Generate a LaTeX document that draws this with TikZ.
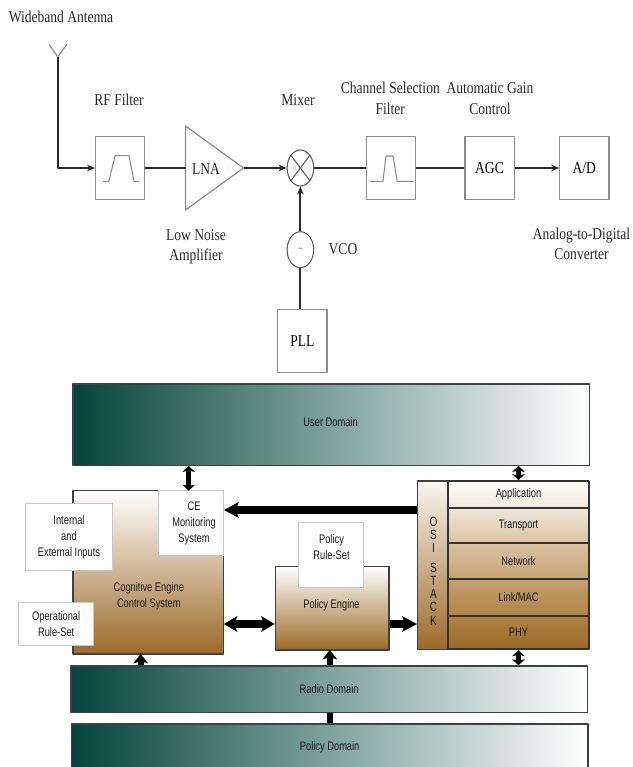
\documentclass[tikz,border=0pt]{standalone}
\usepackage{fontspec}
\setmainfont[FakeStretch=0.82]{Liberation Serif}
\setsansfont[FakeStretch=0.75]{Liberation Sans}
\usetikzlibrary{arrows.meta,shapes.geometric}
\definecolor{tealdark}{HTML}{04443C}
\definecolor{tealmid}{HTML}{7FA39D}
\definecolor{brownend}{HTML}{9C6A28}
\definecolor{linegray}{HTML}{8C8C8C}
\definecolor{lineblack}{HTML}{2A2A2A}
\definecolor{tana}{HTML}{F0E8DA}
\definecolor{tanb}{HTML}{D9C3A3}
\definecolor{tanc}{HTML}{C4A273}
\definecolor{tand}{HTML}{AE8244}
\begin{document}
\begin{tikzpicture}[x=0.75pt,y=-0.75pt,line join=round,font=\fontsize{12.4}{15.3}\selectfont]
	\def\u{0.75}
	\tikzset{
		block/.style={draw=linegray,line width=0.9pt,fill=white,inner sep=0,minimum width=49.2*\u,minimum height=62.3*\u},
		oval/.style={draw=black!65,line width=0.8pt,fill=white,ellipse,inner sep=0,minimum width=26.6*\u,minimum height=36*\u},
		lbl/.style={align=center,inner sep=0,text=black!85},
		wire/.style={draw=lineblack,line width=1.5pt},
		wirearr/.style={wire,-{Stealth[length=6pt,width=5pt]}},
		passband/.style={draw=linegray,line width=0.8pt},
		domainbar/.style={draw=black!75,line width=1pt,left color=tealdark,right color=white,middle color=tealmid,inner sep=0,text=black!90,font=\sffamily\fontsize{9.3}{12}\selectfont},
		tanbox/.style={draw=black!75,line width=1pt,top color=white,bottom color=brownend,inner sep=0,text=black!90,font=\sffamily\fontsize{9.3}{12}\selectfont},
		layer/.style={draw=black!80,line width=1.3pt,inner sep=0,minimum width=140.3*\u,text=black!90,font=\sffamily\fontsize{9.3}{12}\selectfont},
		whitebox/.style={draw=black!22,line width=0.8pt,fill=white,inner sep=0,align=center,text=black!90,font=\sffamily\fontsize{9.3}{12}\selectfont},
		sidetxt/.style={inner sep=0,align=center,text=black!90,font=\sffamily\fontsize{9.3}{12}\selectfont},
		fatone/.style={draw=black,line width=5.5pt,-{Stealth[length=11pt,width=11.5pt,inset=2pt]}},
		fattwo/.style={draw=black,line width=5.5pt,{Stealth[length=10pt,width=11.5pt,inset=2pt]}-{Stealth[length=10pt,width=11.5pt,inset=2pt]}},
		midone/.style={draw=black,line width=4.5pt,-{Stealth[length=7pt,width=11pt,inset=1.5pt]}},
		midtwo/.style={draw=black,line width=4pt,{Stealth[length=4.5pt,width=9.5pt,inset=1pt]}-{Stealth[length=4.5pt,width=9.5pt,inset=1pt]}}
	}
	\useasboundingbox (0,0) rectangle (632,767);

	% receiver chain
	\node[lbl] (antlabel) at (61,17) {Wideband Antenna};
	\coordinate (anttip) at (57.7,56.7);
	\coordinate (antl) at (49,44.3);
	\coordinate (antr) at (67,44.3);
	\node[block] (rf) at (120.1,168) {};
	\coordinate (lnain) at (185.5,168);
	\coordinate (lnaout) at (243.5,168);
	\coordinate (lnatop) at (185.5,126);
	\coordinate (lnabot) at (185.5,210);
	\node[oval] (mixer) at (300.4,168) {};
	\node[block,minimum height=63*\u] (chan) at (390.9,168) {};
	\node[block] (agc) at (489.5,168) {AGC};
	\node[block] (ad) at (584.3,168) {A/D};
	\node[oval,font=\fontsize{6}{6}\selectfont] (vco) at (300.4,249.7) {\textasciitilde};
	\node[block] (pll) at (302.4,341) {PLL};

	\draw[linegray,line width=0.9pt] (antl)--(anttip)--(antr);
	\draw[wirearr] (anttip) |- (rf.west);
	\draw[passband] (103,181.3)--(108.9,181.3)--(115,155.7)--(129,155.7)--(134,181.3)--(139,181.3);
	\draw[passband] (370.2,181.3)--(383,181.3)--(385.9,156)--(393.1,156)--(397.2,181.3)--(413.3,181.3);
	\draw[linegray,line width=0.9pt] (lnatop)--(lnaout)--(lnabot)--cycle;
	\node[lbl] (lna) at (206,169) {LNA};
	\draw[black!65,line width=0.8pt] (mixer.north west)--(mixer.south east) (mixer.north east)--(mixer.south west);
	\foreach \x/\y in {rf.east/lnain,mixer.east/chan.west,chan.east/agc.west}{
		\draw[wire] (\x)--(\y);	}
	\draw[wire] (vco.south |- pll.north)--(vco.south);
	\foreach \x/\y in {lnaout/mixer.west,agc.east/ad.west,vco.north/mixer.south}{
		\draw[wirearr] (\x)--(\y);	}

	\node[lbl] (rflabel) at (119,100) {RF Filter};
	\node[lbl] (mixlabel) at (298,100) {Mixer};
	\node[lbl] (chanlabel) at (390.3,98.5) {Channel Selection\\Filter};
	\node[lbl] (agclabel) at (490,98.5) {Automatic Gain\\Control};
	\node[lbl] (lnalabel) at (196,247) {Low Noise\\Amplifier};
	\node[lbl] (vcolabel) at (343,249) {VCO};
	\node[lbl] (adlabel) at (581.5,244) {Analog-to-Digital\\Converter};

	% domains
	\node[domainbar,minimum width=516.5*\u,minimum height=81.3*\u] (user) at (331.2,424.6) {};
	\node[sidetxt] (userlabel) at (330.6,421.7) {User Domain};
	\node[domainbar,minimum width=516.5*\u,minimum height=46.7*\u] (radio) at (329.2,689.3) {Radio Domain};
	\node[domainbar,minimum width=516.6*\u,minimum height=46*\u] (policy) at (329.7,747) {Policy Domain};

	% cognitive engine
	\node[tanbox,minimum width=150.8*\u,minimum height=163.3*\u] (ce) at (148.4,572.3) {};
	\node[sidetxt] (celabel) at (148.8,596.7) {Cognitive Engine\\Control System};
	\node[whitebox,minimum width=64.9*\u,minimum height=65.3*\u] (monitor) at (191.4,523.3) {};
	\node[sidetxt] (monlabel) at (194,523.3) {CE\\Monitoring\\System};
	\node[whitebox,minimum width=87.1*\u,minimum height=66.6*\u] (inputs) at (69,537) {Internal\\and\\External Inputs};
	\node[whitebox,minimum width=74.5*\u,minimum height=43*\u] (oprules) at (56.2,624.2) {Operational\\Rule-Set};

	% policy engine
	\node[tanbox,minimum width=113.6*\u,minimum height=83.7*\u] (engine) at (332.2,608.2) {};
	\node[sidetxt] (enginelabel) at (331.5,605.7) {Policy Engine};
	\node[whitebox,minimum width=64.9*\u,minimum height=64.6*\u] (rules) at (331.2,555) {};
	\node[sidetxt] (ruleslabel) at (331.5,547.3) {Policy\\Rule-Set};

	% stack
	\node[tanbox,top color=white!60!tana,minimum width=30.7*\u,minimum height=168.3*\u] (osi) at (433,565.2) {};
	\node[sidetxt,font=\sffamily\fontsize{10}{9.9}\selectfont] (osilabel) at (433.5,571) {O\\S\\I\\[5pt]S\\T\\A\\C\\K};
	\node[layer,top color=white,bottom color=tana,minimum height=26.7*\u] (app) at (518.5,494.3) {Application};
	\node[layer,top color=tana,bottom color=tanb,minimum height=35.6*\u] (trans) at (518.5,525.5) {Transport};
	\node[layer,top color=tanb,bottom color=tanc,minimum height=35.7*\u] (net) at (518.5,561.2) {Network};
	\node[layer,top color=tanc,bottom color=tand,minimum height=36.7*\u] (link) at (518.5,597.3) {Link/MAC};
	\node[layer,top color=tand,bottom color=brownend,minimum height=33.6*\u] (phy) at (518.5,632.5) {PHY};

	% buses
	\coordinate (ceright) at (223.8,510);
	\coordinate (ceport) at (223.8,624);
	\coordinate (cetop) at (188.7,490.7);
	\coordinate (cefoot) at (140.7,654);
	\coordinate (enginefoot) at (329.8,650);
	\draw[fatone] (osi.west |- ceright)--(ceright);
	\draw[fattwo] (ceport)--(engine.west |- ceport);
	\draw[fatone] (engine.east |- ceport)--(osi.west |- ceport);
	\draw[midtwo] (cetop |- user.south)--(cetop);
	\draw[midtwo] (app.north)--(app.north |- user.south);
	\draw[midtwo] (phy.south)--(phy.south |- radio.north);
	\draw[midone] (cefoot |- radio.north)--(cefoot);
	\draw[midone] (enginefoot |- radio.north)--(enginefoot);
	\draw[draw=black,line width=4.5pt] (radio.south -| enginefoot)--(policy.north -| enginefoot);
\end{tikzpicture}
\end{document}
